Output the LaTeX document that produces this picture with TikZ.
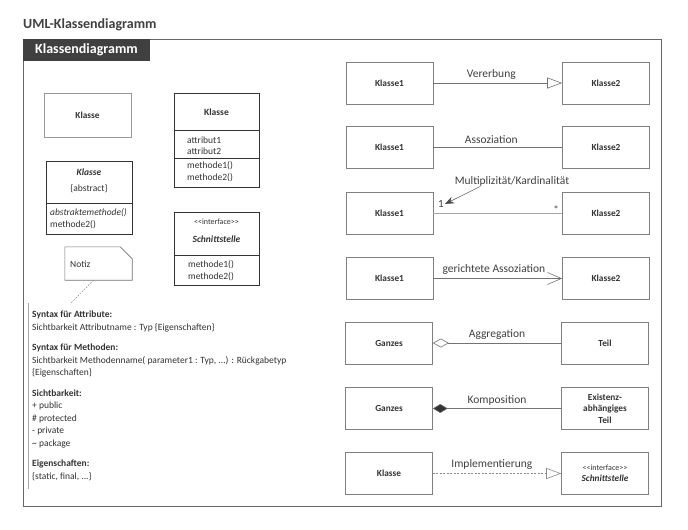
\documentclass[tikz,border=0pt]{standalone}
\usepackage{fontspec}
\setmainfont{Carlito}
\usepackage{tikz}
\usetikzlibrary{arrows.meta, positioning}

\tikzset{
  klasse/.style={draw=black!50, line width=0.6pt, minimum width=87pt, minimum height=42pt, inner sep=2pt, font=\bfseries\fontsize{9.3}{11.5}\selectfont, text=black!80},
  umlbox/.style={draw=black!80, line width=0.7pt},
  kopf/.style={font=\bfseries\fontsize{9.5}{11}\selectfont, text=black!80, inner sep=0pt},
  txt/.style={font=\fontsize{9.5}{11}\selectfont, text=black!80, inner sep=0pt, anchor=west},
  lbl/.style={font=\fontsize{11.5}{13}\selectfont, text=black!75},
  conn/.style={draw=black!55, line width=0.6pt},
}

\begin{document}
\begin{tikzpicture}[x=1pt, y=-1pt]
  \useasboundingbox[fill=white] (0,0) rectangle (688,530);

  % Rahmen und Titel
  \node[draw=black!60, line width=0.8pt, minimum width=638pt, minimum height=467pt, anchor=north west, inner sep=0pt] (rahmen) at (23,39) {};
  \node[anchor=base west, inner sep=0pt, font=\bfseries\fontsize{14}{16}\selectfont, text=black!75] (titel) at (23,28.5) {UML-Klassendiagramm};
  \node[fill=black!75, text=white, anchor=north west, minimum height=22pt, inner xsep=12pt, font=\bfseries\fontsize{14}{16}\selectfont] (reiter) at (rahmen.north west) {Klassendiagramm};

  % linke Seite
  \node[klasse, draw=black!40, minimum height=44pt] (einfach) at (87.5,115) {Klasse};

  \node[umlbox, minimum width=85pt, minimum height=94pt] (kattr) at (216.5,140) {};
  \draw[umlbox] ([yshift=-38pt]kattr.north west) -- ([yshift=-38pt]kattr.north east);
  \draw[umlbox] ([yshift=-66pt]kattr.north west) -- ([yshift=-66pt]kattr.north east);
  \node[kopf] (kattrname) at (216.5,112) {Klasse};
  \node[txt] (attr1) at (187,140) {attribut1};
  \node[txt] (attr2) at (187,151.5) {attribut2};
  \node[txt] (meth1) at (187,166) {methode1()};
  \node[txt] (meth2) at (187,177.5) {methode2()};

  \node[umlbox, minimum width=86pt, minimum height=73pt] (kabs) at (89,197.5) {};
  \draw[umlbox] ([yshift=-43pt]kabs.north west) -- ([yshift=-43pt]kabs.north east);
  \node[kopf, font=\bfseries\itshape\fontsize{9.5}{11}\selectfont] (absname) at (89,172) {Klasse};
  \node[txt, anchor=center] (abstag) at (89,189) {\{abstract\}};
  \node[txt, font=\itshape\fontsize{9.5}{11}\selectfont] (absmeth) at (50,213) {abstraktemethode()};
  \node[txt] (absmeth2) at (50,225) {methode2()};

  \node[umlbox, minimum width=85pt, minimum height=73pt] (iface) at (216.5,248.5) {};
  \draw[umlbox] ([yshift=-44pt]iface.north west) -- ([yshift=-44pt]iface.north east);
  \node[txt, anchor=center, font=\fontsize{8}{10}\selectfont] (ifacetag) at (216.5,222) {{<}{<}interface{>}{>}};
  \node[kopf, font=\bfseries\itshape\fontsize{9.5}{11}\selectfont] (ifacename) at (216.5,239) {Schnittstelle};
  \node[txt] (imeth1) at (188,265) {methode1()};
  \node[txt] (imeth2) at (188,277) {methode2()};

  \node[minimum width=67pt, minimum height=33pt, inner sep=0pt] (notiz) at (98.5,263.5) {};
  \draw[draw=black!55, line width=0.6pt] (notiz.north west) -- ([xshift=-12pt]notiz.north east) -- ([yshift=-12pt]notiz.north east) -- (notiz.south east) -- (notiz.south west) -- cycle;
  \node[txt] (notiztext) at (70,264) {Notiz};

  \node[txt, anchor=north west, align=left, inner xsep=4pt, inner ysep=8pt, font=\fontsize{9.5}{12.5}\selectfont] (syntax) at (28,303) {%
    \textbf{Syntax für Attribute:}\\
    Sichtbarkeit Attributname : Typ \{Eigenschaften\}\\[8pt]
    \textbf{Syntax für Methoden:}\\
    Sichtbarkeit Methodenname( parameter1 : Typ, ...) : Rückgabetyp\\
    \{Eigenschaften\}\\[8pt]
    \textbf{Sichtbarkeit:}\\
    + public\\
    \# protected\\
    - private\\
    \textasciitilde{} package\\[8pt]
    \textbf{Eigenschaften:}\\
    \{static, final, ...\}};
  \draw[draw=black!35, line width=0.5pt] (syntax.north west) -- (syntax.south west);
  \draw[draw=black!50, line width=0.5pt, dash pattern=on 1.5pt off 1.5pt] ([xshift=-5pt]notiz.south) -- ([xshift=43pt]syntax.north west);

  % rechte Seite
  \node[klasse] (v1) at (389.5,83) {Klasse1};
  \node[klasse] (v2) at (606,83) {Klasse2};
  \node[klasse] (a1) at (389.5,147.5) {Klasse1};
  \node[klasse] (a2) at (606,147.5) {Klasse2};
  \node[klasse] (m1) at (389.5,213) {Klasse1};
  \node[klasse] (m2) at (606,213) {Klasse2};
  \node[klasse] (g1) at (389.5,278.5) {Klasse1};
  \node[klasse] (g2) at (606,278.5) {Klasse2};
  \node[klasse] (agg1) at (389,343) {Ganzes};
  \node[klasse] (agg2) at (605,343) {Teil};
  \node[klasse] (k1) at (389,408.5) {Ganzes};
  \node[klasse, align=center] (k2) at (605,408.5) {Existenz-\\abhängiges\\Teil};
  \node[klasse] (i1) at (389,473.5) {Klasse};
  \node[klasse, align=center] (i2) at (605,473.5) {{\mdseries\fontsize{8}{10}\selectfont {<}{<}interface{>}{>}}\\{\itshape Schnittstelle}};

  \draw[conn, -{Triangle[open, length=15pt, width=11pt, fill=white]}] (v1) -- node[lbl, above, pos=0.45] (vlbl) {Vererbung} (v2);
  \draw[conn] (a1) -- node[lbl, above, pos=0.45] (albl) {Assoziation} (a2);

  \draw[conn, draw=black!35] (m1) -- (m2);
  \node[lbl, font=\fontsize{11}{13}\selectfont, inner sep=1pt] (eins) at (441,204) {1};
  \node[lbl, font=\fontsize{11}{13}\selectfont, inner sep=1pt] (stern) at (556,210) {*};
  \node[lbl] (mult) at (512,181) {Multiplizität/Kardinalität};
  \draw[black!70, line width=0.5pt, -{Stealth[length=9pt, width=7pt]}] ([xshift=29pt, yshift=3pt]mult.south west) -- (eins.east);

  \draw[conn, -{Straight Barb[length=14pt, width=12pt]}] (g1) -- node[lbl, above, pos=0.47] (glbl) {gerichtete Assoziation} (g2);
  \draw[conn, {Diamond[open, length=16pt, width=9pt, fill=white]}-] (agg1) -- node[lbl, above] (agglbl) {Aggregation} (agg2);
  \draw[conn, {Diamond[length=15pt, width=9pt, fill=black!80]}-] (k1) -- node[lbl, above] (klbl) {Komposition} (k2);
  \draw[conn, draw=black!45, dash pattern=on 2pt off 1.5pt, -{Triangle[open, length=15pt, width=11pt, fill=white]}] (i1) -- node[lbl, above, pos=0.46] (ilbl) {Implementierung} (i2);
\end{tikzpicture}
\end{document}
